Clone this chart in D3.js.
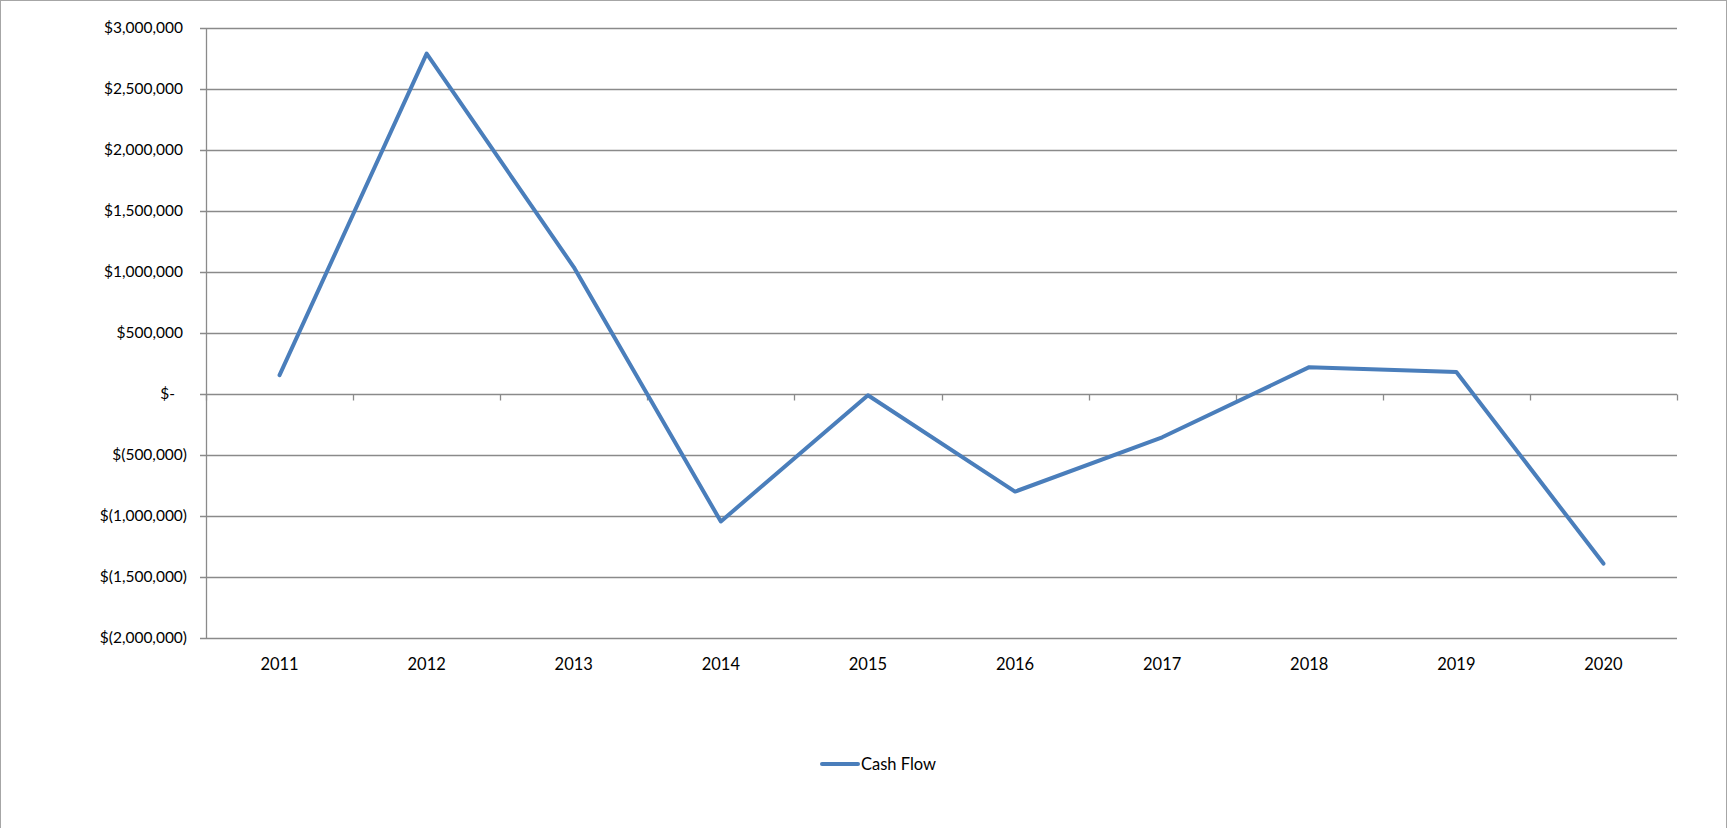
<!DOCTYPE html>
<html>
<head>
<meta charset="utf-8">
<script src="https://d3js.org/d3.v7.min.js"></script>
<style>
  body { margin: 0; background: #fff; }
  text { font-family: Lato, "Open Sans", sans-serif; fill: #000; }
</style>
</head>
<body>
<div id="chart"></div>
<script>
// Data
var years = ["2011", "2012", "2013", "2014", "2015", "2016", "2017", "2018", "2019", "2020"];
var cashFlow = [155000, 2790000, 1040000, -1045000, -10000, -800000, -355000, 220000, 180000, -1390000];
var yTicks = [3000000, 2500000, 2000000, 1500000, 1000000, 500000, 0, -500000, -1000000, -1500000, -2000000];
var seriesName = "Cash Flow";

var svgWidth = 1729;
var svgHeight = 828;

var margin = { top: 28, bottom: 190, right: 52, left: 206 };
var width = svgWidth - margin.left - margin.right;
var height = svgHeight - margin.top - margin.bottom;

var svg = d3.select("#chart")
  .append("svg")
  .attr("width", svgWidth)
  .attr("height", svgHeight);

// outer chart border
svg.append("rect")
  .attr("x", 0.5).attr("y", 0.5)
  .attr("width", 1726).attr("height", 900)
  .attr("fill", "none")
  .attr("stroke", "#a6a6a6");

var chartGroup = svg.append("g")
  .attr("transform", `translate(${margin.left}, ${margin.top})`);

var xScale = d3.scaleBand()
  .domain(years)
  .range([0, width]);

var yScale = d3.scaleLinear()
  .domain([-2000000, 3000000])
  .range([height, 0]);

// gridlines
chartGroup.selectAll(".grid")
  .data(yTicks)
  .enter()
  .append("line")
  .attr("x1", -6)
  .attr("x2", width)
  .attr("y1", d => Math.round(yScale(d)) + 0.5)
  .attr("y2", d => Math.round(yScale(d)) + 0.5)
  .attr("stroke", "#8a8a8a")
  .attr("stroke-width", 1.3);

// y axis line
chartGroup.append("line")
  .attr("x1", 0.5).attr("x2", 0.5)
  .attr("y1", 0).attr("y2", height)
  .attr("stroke", "#8a8a8a")
  .attr("stroke-width", 1.3);

// y labels (accounting style)
function fmt(v) {
  if (v === 0) return "$-";
  var s = d3.format(",")(Math.abs(v));
  return v < 0 ? "$(" + s + ")" : "$" + s;
}
chartGroup.selectAll(".ylab")
  .data(yTicks)
  .enter()
  .append("text")
  .attr("x", d => d < 0 ? -19 : (d === 0 ? -31 : -23))
  .attr("y", d => yScale(d))
  .attr("dy", "0.35em")
  .style("text-anchor", "end")
  .style("font-size", "15.5px")
  .text(fmt);

// x axis at zero with tick marks at category boundaries
var y0 = Math.round(yScale(0)) + 0.5;
var bounds = d3.range(years.length + 1).map(i => i * xScale.step());
chartGroup.selectAll(".xtick")
  .data(bounds)
  .enter()
  .append("line")
  .attr("x1", d => Math.round(d) + 0.5)
  .attr("x2", d => Math.round(d) + 0.5)
  .attr("y1", y0)
  .attr("y2", y0 + 6)
  .attr("stroke", "#8a8a8a")
  .attr("stroke-width", 1.3);

// x labels
chartGroup.selectAll(".xlab")
  .data(years)
  .enter()
  .append("text")
  .attr("x", d => xScale(d) + xScale.bandwidth() / 2)
  .attr("y", height + 26)
  .attr("dy", "0.35em")
  .style("text-anchor", "middle")
  .style("font-size", "16.5px")
  .text(d => d);

// series line
var line = d3.line()
  .x((d, i) => xScale(years[i]) + xScale.bandwidth() / 2)
  .y(d => yScale(d));

chartGroup.append("path")
  .datum(cashFlow)
  .attr("d", line)
  .attr("fill", "none")
  .attr("stroke", "#4a7ebb")
  .attr("stroke-width", 4)
  .attr("stroke-linejoin", "round")
  .attr("stroke-linecap", "round");

// legend
var legend = svg.append("g")
  .attr("transform", "translate(822, 764)");
legend.append("line")
  .attr("x1", 0).attr("x2", 36)
  .attr("y1", 0).attr("y2", 0)
  .attr("stroke", "#4a7ebb")
  .attr("stroke-width", 4)
  .attr("stroke-linecap", "round");
legend.append("text")
  .attr("x", 39)
  .attr("y", 0)
  .attr("dy", "0.35em")
  .style("font-size", "16.5px")
  .text(seriesName);
</script>
</body>
</html>
